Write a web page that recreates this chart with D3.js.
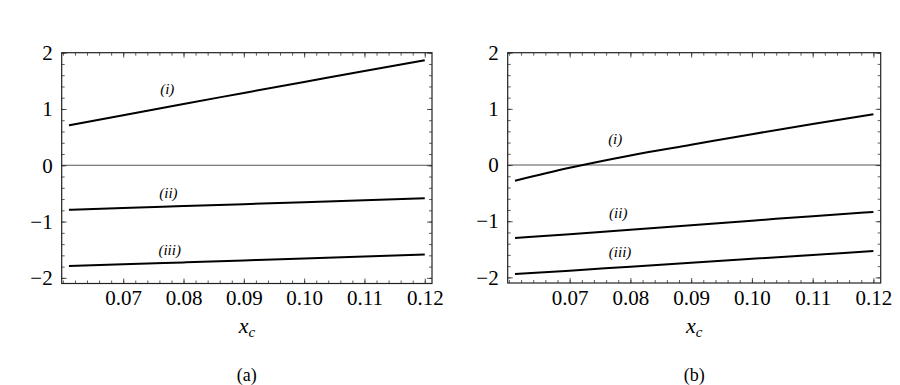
<!DOCTYPE html>
<html><head><meta charset="utf-8">
<script src="https://cdn.jsdelivr.net/npm/d3@7"></script>
<style>
body{margin:0;background:#fff;}
</style></head>
<body><svg id="c" width="900" height="385"></svg>
<script>
// ---- data ----
const xTicks = [0.07, 0.08, 0.09, 0.10, 0.11, 0.12];
const xTickLabels = ["0.07", "0.08", "0.09", "0.10", "0.11", "0.12"];
const yTicks = [-2, -1, 0, 1, 2];
const yTickLabels = ["\u22122", "\u22121", "0", "1", "2"];
const xDomain = [0.0598, 0.1212];
const yDomain = [-2.1, 2.0];
const xValues = [0.061, 0.07, 0.08, 0.09, 0.10, 0.11, 0.12];
const aI   = [0.71, 0.89, 1.09, 1.285, 1.48, 1.675, 1.865];
const aII  = [-0.79, -0.76, -0.725, -0.69, -0.655, -0.62, -0.585];
const aIII = [-1.79, -1.76, -1.725, -1.69, -1.655, -1.62, -1.585];
const bI   = [-0.28, -0.05, 0.17, 0.36, 0.55, 0.73, 0.905];
const bII  = [-1.30, -1.23, -1.15, -1.07, -0.99, -0.91, -0.835];
const bIII = [-1.94, -1.88, -1.81, -1.74, -1.67, -1.60, -1.53];
const curveNames = ["(i)", "(ii)", "(iii)"];
const aLabelX = [0.0773, 0.0775, 0.0777];
const aLabelY = [1.36, -0.50, -1.51];
const bLabelX = [0.0775, 0.0780, 0.0783];
const bLabelY = [0.47, -0.86, -1.55];
const panelNames = ["(a)", "(b)"];

const FONT = "'Liberation Serif'";

const panels = [
  {left: 61.7, right: 432, top: 52.7, bottom: 283.5, series: [aI, aII, aIII], lx: aLabelX, ly: aLabelY, name: panelNames[0]},
  {left: 507.7, right: 880.7, top: 52.7, bottom: 283, series: [bI, bII, bIII], lx: bLabelX, ly: bLabelY, name: panelNames[1]}
];

const svg = d3.select("#c");
const minorX = d3.range(0.060, 0.1211, 0.002);
const minorY = d3.range(-2.0, 2.001, 0.2);

function styleText(sel, size, italic) {
  sel.style("font-family", FONT).style("font-size", size + "px").attr("fill", "#000");
  if (italic) sel.style("font-style", "italic");
  return sel;
}

panels.forEach(p => {
  const x = d3.scaleLinear().domain(xDomain).range([p.left, p.right]);
  const y = d3.scaleLinear().domain(yDomain).range([p.bottom, p.top]);
  const g = svg.append("g");

  // zero axis line
  g.append("line").attr("x1", p.left).attr("x2", p.right)
    .attr("y1", y(0)).attr("y2", y(0))
    .attr("stroke", "#555").attr("stroke-width", 1.1);

  // curves
  const line = d3.line().x((d, i) => x(xValues[i])).y(d => y(d)).curve(d3.curveMonotoneX);
  p.series.forEach(s => {
    g.append("path").datum(s).attr("d", line)
      .attr("fill", "none").attr("stroke", "#000").attr("stroke-width", 2);
  });

  // curve labels
  curveNames.forEach((n, i) => {
    styleText(g.append("text").attr("x", x(p.lx[i])).attr("y", y(p.ly[i]) + 5)
      .attr("text-anchor", "middle"), 15, true).text(n);
  });

  // axes: bottom with labels
  const bottom = g.append("g").attr("transform", `translate(0,${p.bottom})`)
    .call(d3.axisBottom(x).tickValues(xTicks).tickFormat((d, i) => xTickLabels[i])
      .tickSizeInner(-5).tickSizeOuter(0).tickPadding(7));
  bottom.attr("font-family", FONT).attr("font-size", 21);
  styleText(bottom.selectAll("text"), 21, false);
  g.append("g").attr("transform", `translate(0,${p.bottom})`)
    .call(d3.axisBottom(x).tickValues(minorX).tickFormat("").tickSizeInner(-3).tickSizeOuter(0));
  g.append("g").attr("transform", `translate(0,${p.top})`)
    .call(d3.axisTop(x).tickValues(xTicks).tickFormat("").tickSizeInner(-5).tickSizeOuter(0));
  g.append("g").attr("transform", `translate(0,${p.top})`)
    .call(d3.axisTop(x).tickValues(minorX).tickFormat("").tickSizeInner(-3).tickSizeOuter(0));

  const leftAx = g.append("g").attr("transform", `translate(${p.left},0)`)
    .call(d3.axisLeft(y).tickValues(yTicks).tickFormat((d, i) => yTickLabels[i])
      .tickSizeInner(-5).tickSizeOuter(0).tickPadding(9));
  leftAx.attr("font-family", FONT).attr("font-size", 21);
  styleText(leftAx.selectAll("text"), 21, false);
  g.append("g").attr("transform", `translate(${p.left},0)`)
    .call(d3.axisLeft(y).tickValues(minorY).tickFormat("").tickSizeInner(-3).tickSizeOuter(0));
  g.append("g").attr("transform", `translate(${p.right},0)`)
    .call(d3.axisRight(y).tickValues(yTicks).tickFormat("").tickSizeInner(-5).tickSizeOuter(0));
  g.append("g").attr("transform", `translate(${p.right},0)`)
    .call(d3.axisRight(y).tickValues(minorY).tickFormat("").tickSizeInner(-3).tickSizeOuter(0));

  g.selectAll(".domain").remove();
  g.selectAll(".tick line").attr("stroke", "#333").attr("stroke-width", 0.8);

  // frame
  g.append("rect").attr("x", p.left).attr("y", p.top)
    .attr("width", p.right - p.left).attr("height", p.bottom - p.top)
    .attr("fill", "none").attr("stroke", "#222").attr("stroke-width", 1.2);

  // x label
  const cx = (p.left + p.right) / 2;
  const t = styleText(g.append("text").attr("x", cx).attr("y", 333).attr("text-anchor", "middle"), 22, true);
  t.append("tspan").text("x");
  t.append("tspan").style("font-size", "15px").attr("dy", 4).text("c");

  styleText(g.append("text").attr("x", cx).attr("y", 381).attr("text-anchor", "middle"), 18, false).text(p.name);
});
</script></body></html>
